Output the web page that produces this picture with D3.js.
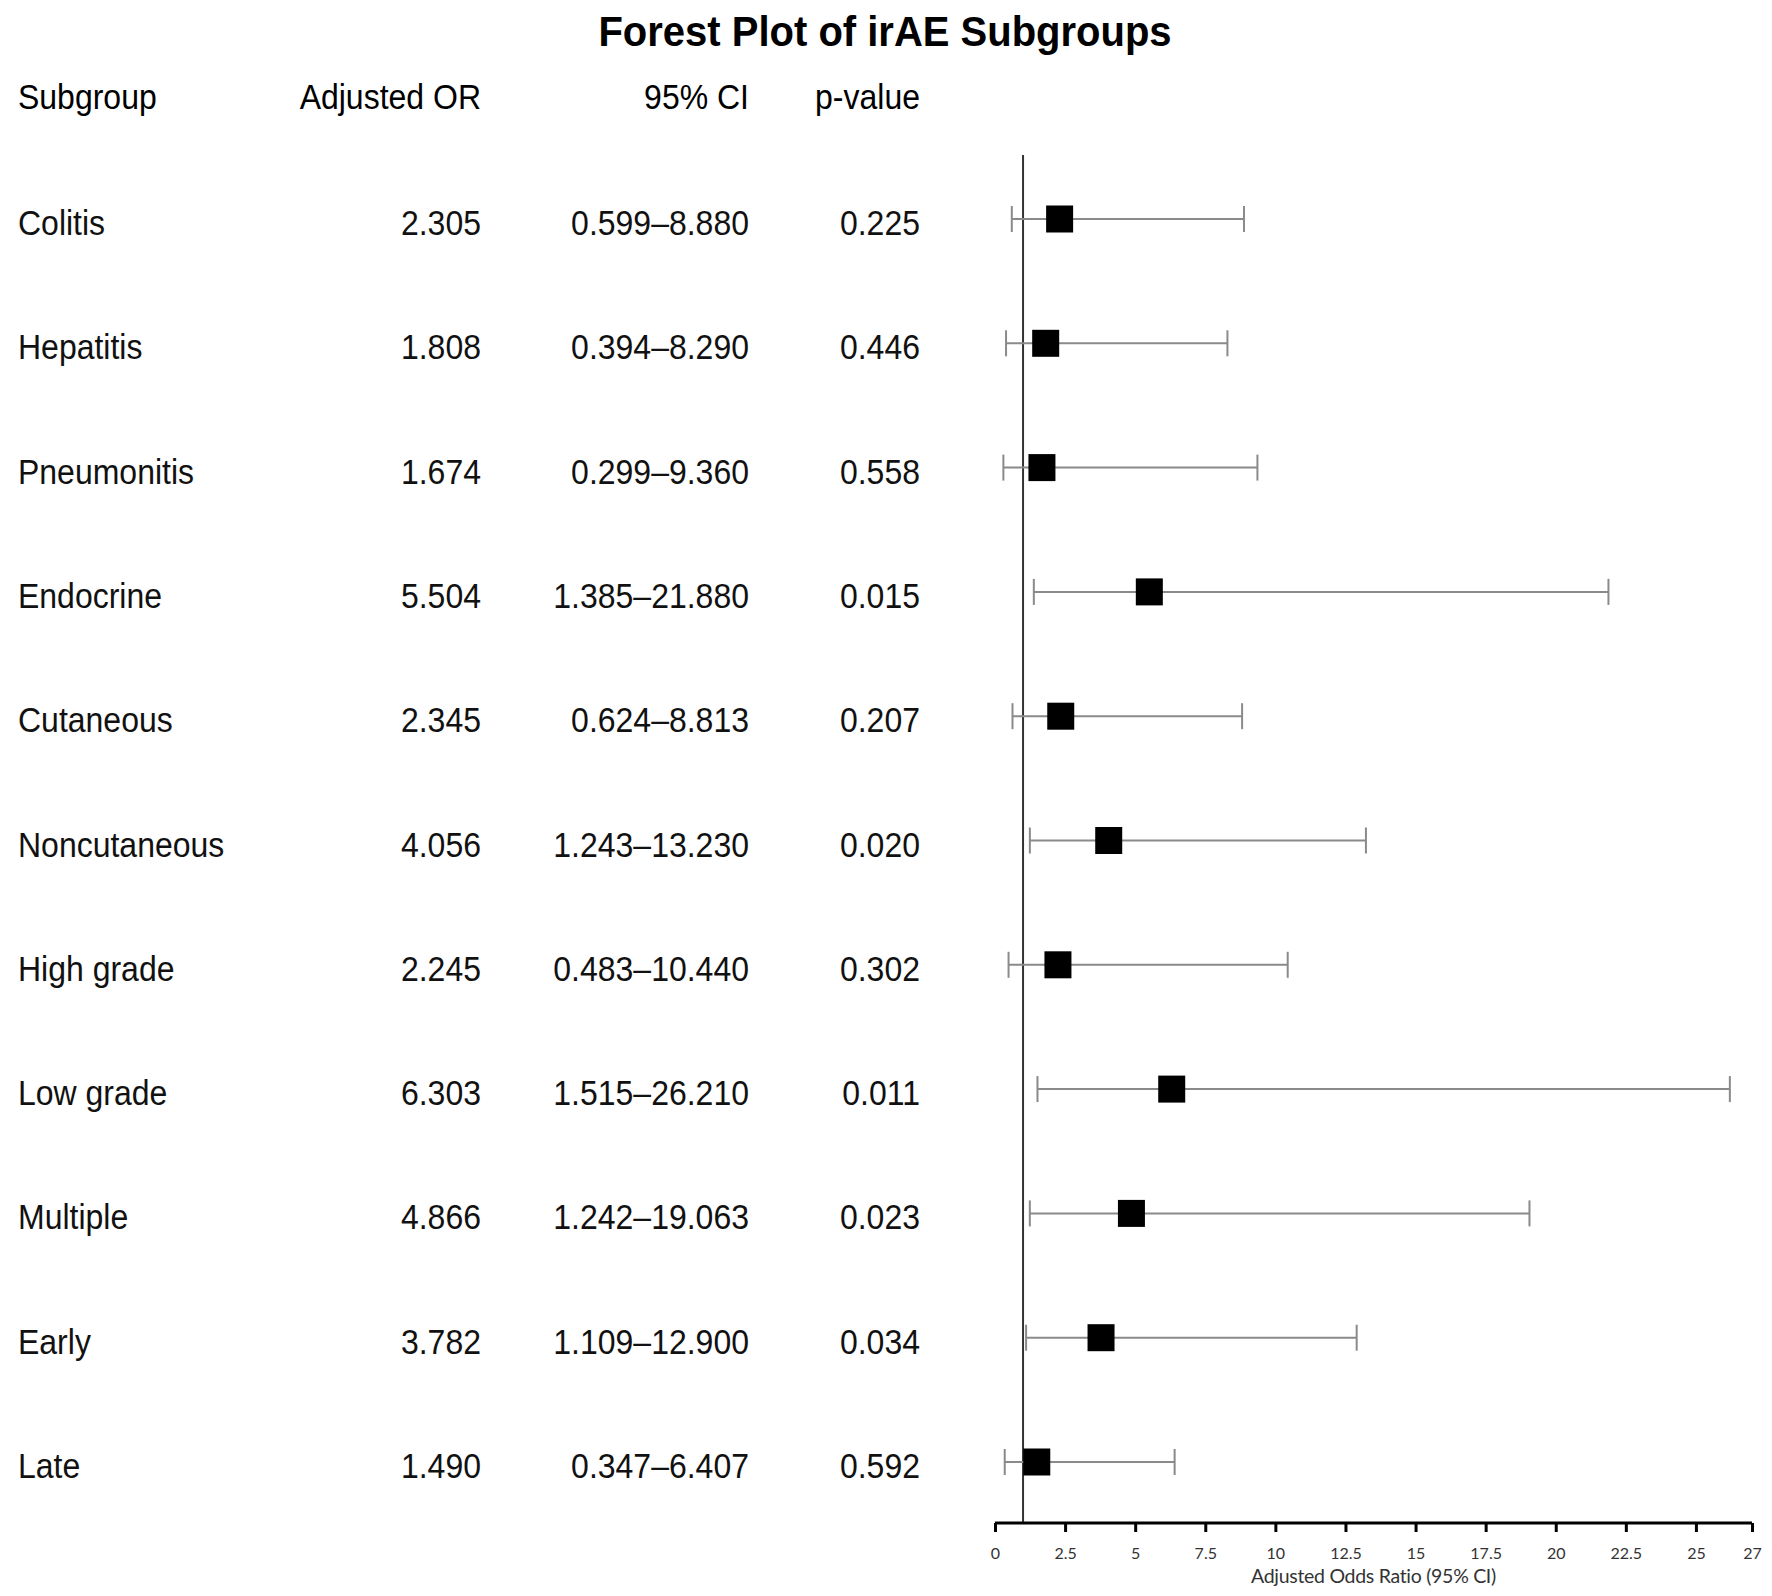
<!DOCTYPE html>
<html>
<head>
<meta charset="utf-8">
<script src="https://cdn.jsdelivr.net/npm/d3@7"></script>
<style>
  body { margin: 0; background: #fff; }
  svg { display: block; }
</style>
</head>
<body>
<svg id="chart"></svg>
<script>
// chart data
const subgroups = ['Colitis', 'Hepatitis', 'Pneumonitis', 'Endocrine', 'Cutaneous', 'Noncutaneous',
  'High grade', 'Low grade', 'Multiple', 'Early', 'Late'];
const odds_ratio = [2.305, 1.808, 1.674, 5.504, 2.345, 4.056, 2.245, 6.303, 4.866, 3.782, 1.490];
const ci_lower = [0.599, 0.394, 0.299, 1.385, 0.624, 1.243, 0.483, 1.515, 1.242, 1.109, 0.347];
const ci_upper = [8.880, 8.290, 9.360, 21.880, 8.813, 13.230, 10.440, 26.210, 19.063, 12.900, 6.407];
const p_values = ['0.225', '0.446', '0.558', '0.015', '0.207', '0.020', '0.302', '0.011', '0.023', '0.034', '0.592'];
const x_ticks = [0, 2.5, 5, 7.5, 10, 12.5, 15, 17.5, 20, 22.5, 25, 27];
const headers = ['Subgroup', 'Adjusted OR', '95% CI', 'p-value'];

const width = 1772;
const height = 1596;
const box_size = 27;
const cap_height = 26;
const text_font = 'Arial, "Liberation Sans", sans-serif';
const text_size = 32;
// the source image text is a bit taller than it is wide
const stretch = 'scale(1,1.07)';

const rows = subgroups.map((name, i) => ({
  name,
  or: odds_ratio[i],
  lo: ci_lower[i],
  hi: ci_upper[i],
  p: p_values[i],
}));

const svg = d3.select('#chart')
  .attr('width', width)
  .attr('height', height);

const x = d3.scaleLinear().domain([0, 27]).range([995, 1752]);
const y = d3.scalePoint().domain(subgroups).range([219, 1462]);
const axis_y = 1523;

// title
svg.append('text')
  .attr('transform', `translate(885,46) ${stretch}`)
  .attr('text-anchor', 'middle')
  .attr('font-family', text_font)
  .attr('font-weight', 'bold')
  .attr('font-size', 40)
  .text('Forest Plot of irAE Subgroups');

// table columns: x position + anchor
const columns = [
  { x: 18, anchor: 'start', get: (d) => d.name },
  { x: 481, anchor: 'end', get: (d) => d.or.toFixed(3) },
  { x: 749, anchor: 'end', get: (d) => `${d.lo.toFixed(3)}\u2013${d.hi.toFixed(3)}` },
  { x: 920, anchor: 'end', get: (d) => d.p },
];

svg.append('g').selectAll('text')
  .data(headers)
  .enter().append('text')
    .attr('transform', (d, i) => `translate(${columns[i].x},109) ${stretch}`)
    .attr('text-anchor', (d, i) => columns[i].anchor)
    .attr('font-family', text_font)
    .attr('font-size', text_size)
    .text((d) => d);

const table = svg.append('g');
columns.forEach((col) => {
  table.append('g').selectAll('text')
    .data(rows)
    .enter().append('text')
      .attr('transform', (d) => `translate(${col.x},${y(d.name) + 16}) ${stretch}`)
      .attr('text-anchor', col.anchor)
      .attr('font-family', text_font)
      .attr('font-size', text_size)
      .attr('fill', '#111')
      .text(col.get);
});

// reference line at OR = 1
svg.append('line')
  .attr('x1', x(1))
  .attr('x2', x(1))
  .attr('y1', 155)
  .attr('y2', axis_y)
  .attr('stroke', '#333')
  .attr('stroke-width', 2);

// CI whiskers
const plot = svg.append('g');
const marks = plot.selectAll('.row')
  .data(rows)
  .enter().append('g')
    .attr('class', 'row');

marks.append('line')
  .attr('x1', (d) => x(d.lo))
  .attr('x2', (d) => x(d.hi))
  .attr('y1', (d) => y(d.name))
  .attr('y2', (d) => y(d.name))
  .attr('stroke', '#8a8a8a')
  .attr('stroke-width', 2);

['lo', 'hi'].forEach((k) => {
  marks.append('line')
    .attr('x1', (d) => x(d[k]))
    .attr('x2', (d) => x(d[k]))
    .attr('y1', (d) => y(d.name) - cap_height / 2)
    .attr('y2', (d) => y(d.name) + cap_height / 2)
    .attr('stroke', '#8a8a8a')
    .attr('stroke-width', 2);
});

marks.append('rect')
  .attr('x', (d) => x(d.or) - box_size / 2)
  .attr('y', (d) => y(d.name) - box_size / 2)
  .attr('width', box_size)
  .attr('height', box_size)
  .attr('fill', '#000');

// x axis
const axis = svg.append('g')
  .attr('transform', `translate(0,${axis_y})`)
  .call(d3.axisBottom(x)
    .tickValues(x_ticks)
    .tickFormat(d3.format(''))
    .tickSize(9)
    .tickSizeOuter(0)
    .tickPadding(16));

axis.select('.domain')
  .attr('stroke', '#000')
  .attr('stroke-width', 3)
  .attr('d', `M${x(0)},0H${x(27)}`);
axis.selectAll('.tick line')
  .attr('stroke', '#000')
  .attr('stroke-width', 3);
axis.selectAll('.tick text')
  .attr('font-family', 'Lato, "DejaVu Sans", sans-serif')
  .attr('font-size', 16)
  .attr('fill', '#333');

svg.append('text')
  .attr('x', (x(0) + x(27)) / 2)
  .attr('y', 1583)
  .attr('text-anchor', 'middle')
  .attr('font-family', 'Lato, "DejaVu Sans", sans-serif')
  .attr('font-size', 19.5)
  .attr('letter-spacing', -0.3)
  .attr('fill', '#333')
  .text('Adjusted Odds Ratio (95% CI)');
</script>
</body>
</html>
